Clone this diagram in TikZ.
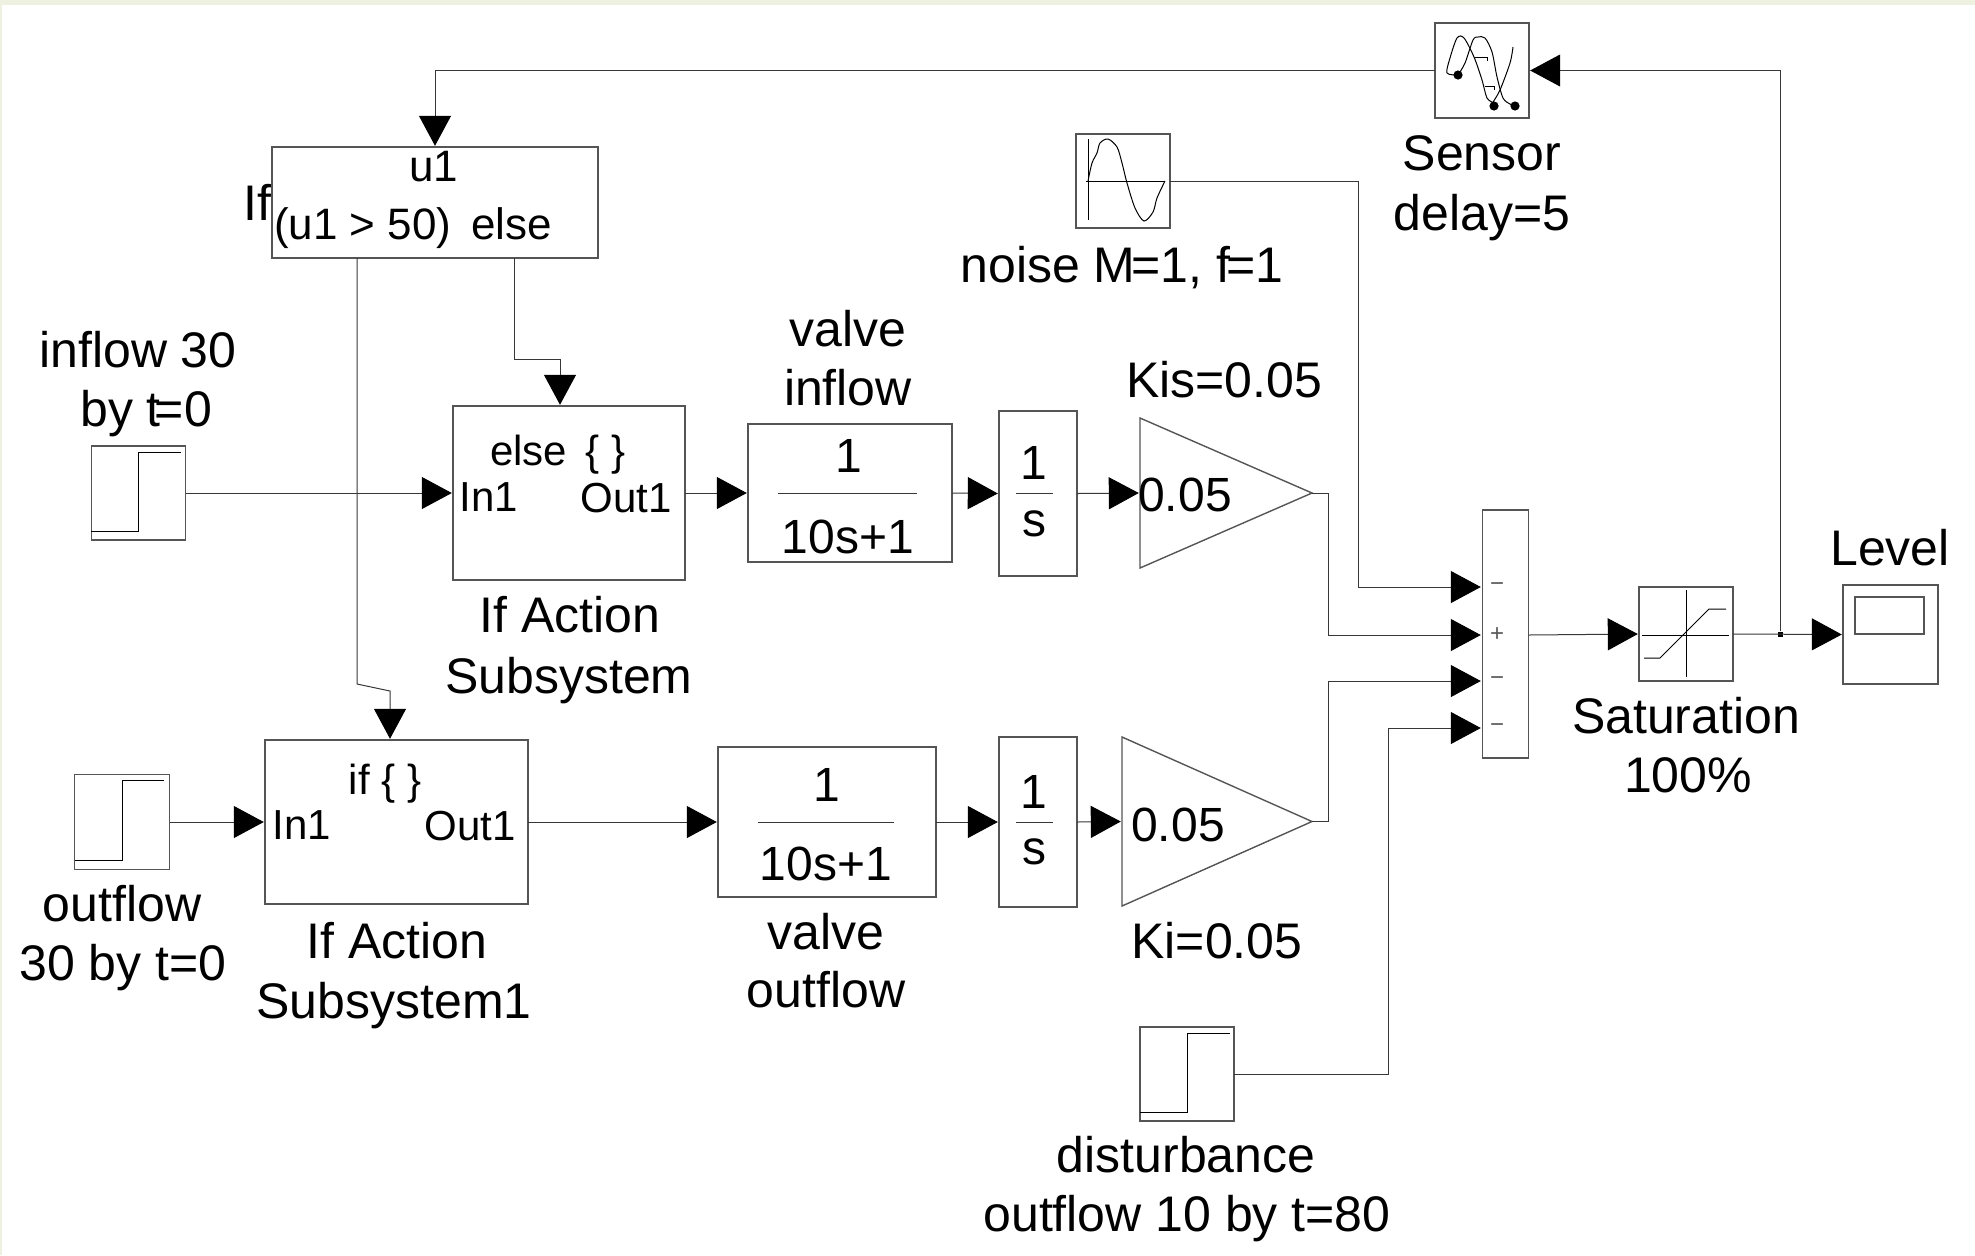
\documentclass[tikz,border=0pt]{standalone}
\usepackage{fontspec}
\setmainfont{Liberation Sans}
\usetikzlibrary{arrows.meta,calc,shapes.geometric}
\definecolor{edgeband}{RGB}{238,240,224}
\definecolor{wirecol}{RGB}{55,55,55}
\definecolor{framecol}{RGB}{85,85,85}
\tikzset{
  blockbox/.style={draw=framecol,fill=white,line width=0.7pt,inner sep=0pt,outer sep=0pt},
  gainbox/.style={draw=framecol,fill=white,line width=0.7pt,isosceles triangle,isosceles triangle stretches,inner sep=0pt,outer sep=0pt,anchor=apex},
  sig/.style={draw=wirecol,line width=0.5pt,->,>={Triangle[length=15pt,width=16pt,black]},shorten >=0.6pt},
  wire/.style={draw=wirecol,line width=0.5pt},
  icon/.style={black,line width=0.5pt},
  lab/.style={font=\fontsize{25}{30}\selectfont,inner sep=0pt},
  tflab/.style={font=\fontsize{24}{28}\selectfont,inner sep=0pt},
  portlab/.style={font=\fontsize{21}{25}\selectfont,inner sep=0pt},
  signlab/.style={font=\fontsize{12}{14}\selectfont,inner sep=0pt,text=black!65},
}
\begin{document}
\begin{tikzpicture}[x=0.5pt,y=-0.5pt]
  \useasboundingbox (0,0) rectangle (1975,1255);
  \fill[edgeband] (0,0) rectangle (1975,5);
  \fill[edgeband] (0,0) rectangle (2,1255);

  % labels
  \node[lab] (iftext) at (257,202) {If};
  \node[lab] (sensorlab) at (1482,153) {Sensor};
  \node[lab] (delaylab) at (1482,218) {delay=5};
  \node[lab] (noiselab) at (1122,268) {noise M\kern-.08em=1, f\kern-.08em=1};
  \node[lab] (inflowlab) at (138,350) {inflow 30};
  \node[lab] (inflowlabb) at (146,414) {by t\kern-.12em=0};
  \node[lab] (outflowlab) at (122,904) {outflow};
  \node[lab] (outflowlabb) at (123,968) {30 by t=0};
  \node[lab] (valveinlab) at (848,329) {valve};
  \node[lab] (valveinlabb) at (848,388) {inflow};
  \node[lab] (kislab) at (1224,380) {Kis=0.05};
  \node[lab] (subelselab) at (570,615) {If Action};
  \node[lab] (subelselabb) at (569,681) {Subsystem};
  \node[lab] (subiflab) at (397,941) {If Action};
  \node[lab] (subiflabb) at (394,1006) {Subsystem1};
  \node[lab] (valveoutlab) at (826,932) {valve};
  \node[lab] (valveoutlabb) at (826,990) {outflow};
  \node[lab] (kilab) at (1217,941) {Ki=0.05};
  \node[lab] (distlab) at (1186,1155) {disturbance};
  \node[lab] (distlabb) at (1187,1219) {outflow 10 by t=80};
  \node[lab] (satlab) at (1686,716) {Saturation};
  \node[lab] (satlabb) at (1688,775) {100\%};
  \node[lab] (levellab) at (1890,548) {Level};

  % blocks
  \node[blockbox,minimum width=163pt,minimum height=55.5pt] (ifbox) at (435,202.5) {};
  \node[blockbox,minimum width=47pt,minimum height=47.5pt] (sensor) at (1482,70.5) {};
  \node[blockbox,minimum width=47pt,minimum height=47pt] (noise) at (1123,181) {};
  \node[blockbox,minimum width=47pt,minimum height=47pt] (stepin) at (138.5,493) {};
  \node[blockbox,minimum width=47.5pt,minimum height=47.5pt] (stepout) at (122,822) {};
  \node[blockbox,minimum width=47pt,minimum height=47pt] (stepdist) at (1187,1074) {};
  \node[blockbox,minimum width=116pt,minimum height=87pt] (subelse) at (569,493) {};
  \node[blockbox,minimum width=131.5pt,minimum height=82pt] (subif) at (396.5,822) {};
  \node[blockbox,minimum width=102pt,minimum height=69pt] (tfin) at (850,493) {};
  \node[blockbox,minimum width=109pt,minimum height=75pt] (tfout) at (827,822) {};
  \node[blockbox,minimum width=39pt,minimum height=82.5pt] (intin) at (1038,493.5) {};
  \node[blockbox,minimum width=39pt,minimum height=85pt] (intout) at (1038,822) {};
  \node[gainbox,minimum height=86pt,minimum width=75pt] (gainin) at (1312,493) {};
  \node[gainbox,minimum height=95pt,minimum width=84.5pt] (gainout) at (1312,821.5) {};
  \node[blockbox,minimum width=23pt,minimum height=124pt] (sumblk) at (1505.5,634) {};
  \node[blockbox,minimum width=47pt,minimum height=47pt] (sat) at (1686,634) {};
  \node[blockbox,minimum width=47.5pt,minimum height=49.5pt] (scope) at (1890.5,634.5) {};

  % block texts
  \node[portlab,font=\fontsize{22}{26}\selectfont] (ifu) at (434,167) {u1};
  \node[portlab,font=\fontsize{22}{26}\selectfont] (ifcond) at (413,228) {(u1 > 50)\, else};
  \node[portlab] (elsetext) at (558,455) {else \,\{ \}};
  \node[portlab] (elsein) at (489,497) {In1};
  \node[portlab] (elseout) at (626,498) {Out1};
  \node[portlab] (iftxt) at (385,784) {if \{ \}};
  \node[portlab] (ifin) at (302,825) {In1};
  \node[portlab] (ifout) at (470,826) {Out1};
  \node[tflab] (tfinnum) at (849,456) {1};
  \node[tflab] (tfinden) at (848,537) {10s+1};
  \draw[wire] (778,493) -- (917,493);
  \node[tflab] (tfoutnum) at (827,785) {1};
  \node[tflab] (tfoutden) at (826,864) {10s+1};
  \draw[wire] (758,822) -- (894,822);
  \node[tflab] (intinnum) at (1034,463) {1};
  \node[tflab] (intinden) at (1034,524) {s};
  \draw[wire] (1016,493) -- (1053,493);
  \node[tflab] (intoutnum) at (1034,792) {1};
  \node[tflab] (intoutden) at (1034,852) {s};
  \draw[wire] (1016,822) -- (1053,822);
  \node[tflab] (gaininval) at (1185,495) {0.05};
  \node[tflab] (gainoutval) at (1178,825) {0.05};

  % step icons
  \draw[icon] (91,531) -- (138,531) -- (138,452) -- (181,452);
  \draw[icon] (75,860) -- (122,860) -- (122,780) -- (164,780);
  \draw[icon] (1140,1112) -- (1187,1112) -- (1187,1033) -- (1230,1033);

  % noise icon
  \draw[icon] (1088,139) -- (1088,220);
  \draw[icon] (1086,181) -- (1165,181);
  \draw[icon] plot[smooth] coordinates {(1088,181) (1092,163) (1097,153) (1100,143) (1108,139) (1117,147) (1122,163) (1127,183) (1135,208) (1144,221) (1153,212) (1157,198) (1165,181)};

  % sensor icon
  \draw[icon] plot[smooth] coordinates {(1458,75) (1447,73) (1450,58) (1457,38) (1464,38) (1474,57) (1482,80) (1487,98) (1494,103)};
  \draw[icon] plot[smooth] coordinates {(1458,75) (1465,63) (1473,40) (1478,37) (1485,38) (1492,52) (1497,77) (1503,98) (1510,104) (1515,106)};
  \draw[icon] plot[smooth] coordinates {(1513,47) (1510,63) (1500,90) (1493,102)};
  \draw[icon] (1475,57) -- (1487,57) -- (1487,61);
  \draw[icon] (1485,86) -- (1494,86) -- (1494,90);
  \foreach \x/\y in {1458/75,1494/106,1515/106}{
    \fill (\x,\y) circle (2.3pt);}

  % saturation icon
  \draw[icon] (1642,635) -- (1729,635);
  \draw[icon] (1686,590) -- (1686,677);
  \draw[icon] (1644,658) -- (1660,658) -- (1709,609) -- (1726,609);

  % scope icon
  \draw[framecol,line width=0.7pt] (1855,597) rectangle (1924,634);

  % sum ports
  \foreach \y/\sgn [count=\i] in {587/−,635/+,681/−,728/−}{
    \coordinate (sumin\i) at (1482,\y);
    \node[signlab] (sumsign\i) at (1497,\y) {\sgn};}

  % bends
  \coordinate (elsedown) at (514,258);
  \coordinate (bendelse) at (560,359);
  \coordinate (elsetrig) at (560,406);
  \coordinate (ifdown) at (357,258);
  \coordinate (bendifa) at (357,684);
  \coordinate (bendifb) at (390,691);
  \coordinate (iftrig) at (390,740);
  \coordinate (bendnoise) at (1358,587);
  \coordinate (bendgainin) at (1328,635);
  \coordinate (bendgainout) at (1328,681);
  \coordinate (benddist) at (1388,728);
  \node[fill=black,inner sep=0pt,minimum size=2.5pt] (pick) at (1780,634) {};

  % connectors
  \draw[sig] (pick) |- (sensor.east);
  \draw[sig] (sensor.west) -| (ifbox.north);
  \draw[sig] (elsedown) |- (bendelse) -- (elsetrig);
  \draw[sig] (ifdown) -- (bendifa) -- (bendifb) -- (iftrig);
  \draw[sig] (stepin.east) -- (subelse.west);
  \draw[sig] (subelse.east) -- (tfin.west);
  \draw[sig] (tfin.east) -- (intin.west);
  \draw[sig] (intin.east) -- (gainin.lower side);
  \draw[sig] (stepout.east) -- (subif.west);
  \draw[sig] (subif.east) -- (tfout.west);
  \draw[sig] (tfout.east) -- (intout.west);
  \draw[sig] (intout.east) -- (gainout.lower side);
  \draw[sig] (noise.east) -| (bendnoise) -- (sumin1);
  \draw[sig] (gainin.apex) -| (bendgainin) -- (sumin2);
  \draw[sig] (gainout.apex) -| (bendgainout) -- (sumin3);
  \draw[sig] (stepdist.east) -| (benddist) -- (sumin4);
  \draw[sig] (sumblk.east |- sumin2) -- (sat.west);
  \draw[sig] (sat.east) -- (scope.west);
\end{tikzpicture}
\end{document}
